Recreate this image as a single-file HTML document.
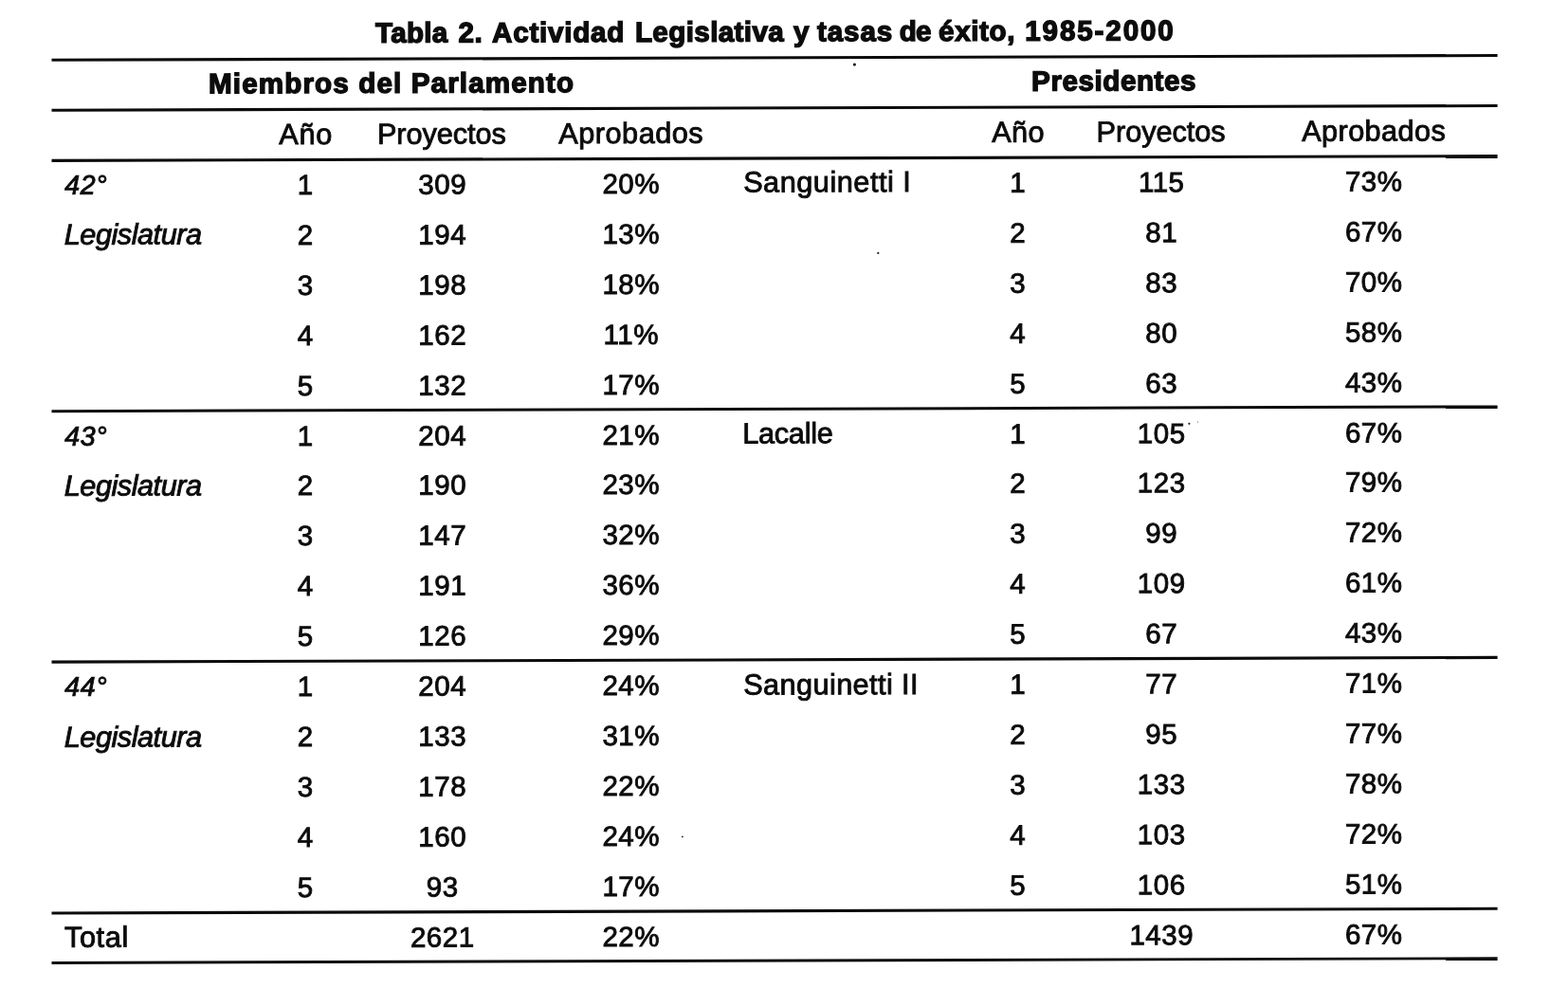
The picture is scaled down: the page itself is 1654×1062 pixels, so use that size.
<!DOCTYPE html>
<html lang="es">
<head>
<meta charset="utf-8">
<title>Tabla 2. Actividad Legislativa y tasas de éxito, 1985-2000</title>
<style>
html,body{margin:0;padding:0;background:#fff;}
#page{position:relative;width:1654px;height:1062px;overflow:hidden;background:#fff;}
#sk{position:absolute;left:0;top:0;width:1654px;height:1062px;transform-origin:0 0;transform:skewY(-0.1776deg);}
.t{position:absolute;display:block;white-space:pre;color:#0c0c0c;font-family:"Liberation Sans",sans-serif;line-height:40px;height:40px;margin:0;padding:0;}
.b{font-weight:bold;font-size:29.60px;-webkit-text-stroke:1.40px #0c0c0c;}
.r{font-size:30.70px;-webkit-text-stroke:0.90px #0c0c0c;}
.i{font-style:italic;font-size:30.70px;-webkit-text-stroke:0.90px #0c0c0c;}
.n{font-size:29.50px;letter-spacing:0.53px;-webkit-text-stroke:0.90px #0c0c0c;}
</style>
</head>
<body>
<div id="page">
<div id="sk">
<svg id="rules" width="1654" height="1062" viewBox="0 0 1654 1062" style="position:absolute;left:0;top:0;overflow:visible">
<rect x="54.5" y="61.85" width="1525.1" height="3.10" fill="#0c0c0c"/>
<rect x="54.5" y="114.85" width="1525.1" height="3.10" fill="#0c0c0c"/>
<rect x="54.5" y="167.95" width="1525.1" height="3.10" fill="#0c0c0c"/>
<rect x="54.5" y="432.30" width="1525.1" height="3.00" fill="#0c0c0c"/>
<rect x="54.5" y="696.75" width="1525.1" height="3.10" fill="#0c0c0c"/>
<rect x="54.5" y="961.65" width="1525.1" height="3.10" fill="#0c0c0c"/>
<rect x="54.5" y="1014.15" width="1525.1" height="2.90" fill="#0c0c0c"/>
<circle cx="901.4" cy="70.9" r="1.60" fill="#222"/>
<circle cx="926.3" cy="269.8" r="1.10" fill="#222"/>
<circle cx="719.9" cy="884.7" r="0.90" fill="#222"/>
<circle cx="1254.4" cy="450.7" r="1.10" fill="#222"/>
<circle cx="1263.5" cy="448.9" r="0.50" fill="#222"/>
</svg>
<h1 style="margin:0;padding:0;font-size:inherit;font-weight:inherit">
<span class="t b" style="left:396.10px;top:16.24px;letter-spacing:0.266px;">Tabla</span> 
<span class="t b" style="left:483.60px;top:16.24px;letter-spacing:0.541px;">2.</span> 
<span class="t b" style="left:519.10px;top:16.24px;letter-spacing:0.760px;">Actividad</span> 
<span class="t b" style="left:669.90px;top:16.24px;letter-spacing:0.389px;">Legislativa</span> 
<span class="t b" style="left:836.90px;top:16.24px;">y</span> 
<span class="t b" style="left:861.90px;top:16.24px;letter-spacing:0.917px;">tasas</span> 
<span class="t b" style="left:948.80px;top:16.24px;letter-spacing:-0.777px;">de</span> 
<span class="t b" style="left:990.10px;top:16.24px;letter-spacing:0.606px;">éxito,</span> 
<span class="t b" style="left:1081.30px;top:16.24px;letter-spacing:1.867px;">1985-2000</span> 
</h1>
<div class="t b" style="left:220.10px;top:69.34px;letter-spacing:1.128px;">Miembros del Parlamento</div>
<div class="t b" style="left:1088.10px;top:69.34px;letter-spacing:0.558px;">Presidentes</div>
<div class="t r" style="left:294.35px;top:122.56px;letter-spacing:0.632px;">Año</div>
<div class="t r" style="left:397.95px;top:122.56px;letter-spacing:-0.063px;">Proyectos</div>
<div class="t r" style="left:589.35px;top:122.56px;letter-spacing:0.489px;">Aprobados</div>
<div class="t r" style="left:1046.25px;top:122.56px;letter-spacing:0.382px;">Año</div>
<div class="t r" style="left:1156.55px;top:122.56px;letter-spacing:-0.050px;">Proyectos</div>
<div class="t r" style="left:1373.15px;top:122.56px;letter-spacing:0.414px;">Aprobados</div>
<div class="t i" style="left:68.25px;top:174.92px;letter-spacing:0.700px;font-size:28.50px;">42°</div>
<div class="t r" style="left:784.15px;top:175.46px;letter-spacing:0.510px;">Sanguinetti I</div>
<div class="t n" style="left:313.70px;top:175.88px;">1</div>
<div class="t n" style="left:441.36px;top:175.88px;">309</div>
<div class="t n" style="left:635.45px;top:175.88px;">20%</div>
<div class="t n" style="left:1065.20px;top:175.88px;">1</div>
<div class="t n" style="left:1200.95px;top:175.88px;">115</div>
<div class="t n" style="left:1418.95px;top:175.88px;">73%</div>
<div class="t i" style="left:67.75px;top:228.39px;letter-spacing:-0.486px;">Legislatura</div>
<div class="t n" style="left:313.70px;top:228.81px;">2</div>
<div class="t n" style="left:441.36px;top:228.81px;">194</div>
<div class="t n" style="left:635.45px;top:228.81px;">13%</div>
<div class="t n" style="left:1065.20px;top:228.81px;">2</div>
<div class="t n" style="left:1208.33px;top:228.81px;">81</div>
<div class="t n" style="left:1418.95px;top:228.81px;">67%</div>
<div class="t n" style="left:313.70px;top:281.74px;">3</div>
<div class="t n" style="left:441.36px;top:281.74px;">198</div>
<div class="t n" style="left:635.45px;top:281.74px;">18%</div>
<div class="t n" style="left:1065.20px;top:281.74px;">3</div>
<div class="t n" style="left:1208.33px;top:281.74px;">83</div>
<div class="t n" style="left:1418.95px;top:281.74px;">70%</div>
<div class="t n" style="left:313.70px;top:334.67px;">4</div>
<div class="t n" style="left:441.36px;top:334.67px;">162</div>
<div class="t n" style="left:636.54px;top:334.67px;">11%</div>
<div class="t n" style="left:1065.20px;top:334.67px;">4</div>
<div class="t n" style="left:1208.33px;top:334.67px;">80</div>
<div class="t n" style="left:1418.95px;top:334.67px;">58%</div>
<div class="t n" style="left:313.70px;top:387.60px;">5</div>
<div class="t n" style="left:441.36px;top:387.60px;">132</div>
<div class="t n" style="left:635.45px;top:387.60px;">17%</div>
<div class="t n" style="left:1065.20px;top:387.60px;">5</div>
<div class="t n" style="left:1208.33px;top:387.60px;">63</div>
<div class="t n" style="left:1418.95px;top:387.60px;">43%</div>
<div class="t i" style="left:68.25px;top:439.57px;letter-spacing:0.700px;font-size:28.50px;">43°</div>
<div class="t r" style="left:783.15px;top:440.11px;letter-spacing:-0.263px;">Lacalle</div>
<div class="t n" style="left:313.70px;top:440.53px;">1</div>
<div class="t n" style="left:441.36px;top:440.53px;">204</div>
<div class="t n" style="left:635.45px;top:440.53px;">21%</div>
<div class="t n" style="left:1065.20px;top:440.53px;">1</div>
<div class="t n" style="left:1199.86px;top:440.53px;">105</div>
<div class="t n" style="left:1418.95px;top:440.53px;">67%</div>
<div class="t i" style="left:67.75px;top:493.04px;letter-spacing:-0.486px;">Legislatura</div>
<div class="t n" style="left:313.70px;top:493.46px;">2</div>
<div class="t n" style="left:441.36px;top:493.46px;">190</div>
<div class="t n" style="left:635.45px;top:493.46px;">23%</div>
<div class="t n" style="left:1065.20px;top:493.46px;">2</div>
<div class="t n" style="left:1199.86px;top:493.46px;">123</div>
<div class="t n" style="left:1418.95px;top:493.46px;">79%</div>
<div class="t n" style="left:313.70px;top:546.39px;">3</div>
<div class="t n" style="left:441.36px;top:546.39px;">147</div>
<div class="t n" style="left:635.45px;top:546.39px;">32%</div>
<div class="t n" style="left:1065.20px;top:546.39px;">3</div>
<div class="t n" style="left:1208.33px;top:546.39px;">99</div>
<div class="t n" style="left:1418.95px;top:546.39px;">72%</div>
<div class="t n" style="left:313.70px;top:599.32px;">4</div>
<div class="t n" style="left:441.36px;top:599.32px;">191</div>
<div class="t n" style="left:635.45px;top:599.32px;">36%</div>
<div class="t n" style="left:1065.20px;top:599.32px;">4</div>
<div class="t n" style="left:1199.86px;top:599.32px;">109</div>
<div class="t n" style="left:1418.95px;top:599.32px;">61%</div>
<div class="t n" style="left:313.70px;top:652.25px;">5</div>
<div class="t n" style="left:441.36px;top:652.25px;">126</div>
<div class="t n" style="left:635.45px;top:652.25px;">29%</div>
<div class="t n" style="left:1065.20px;top:652.25px;">5</div>
<div class="t n" style="left:1208.33px;top:652.25px;">67</div>
<div class="t n" style="left:1418.95px;top:652.25px;">43%</div>
<div class="t i" style="left:68.25px;top:704.22px;letter-spacing:0.700px;font-size:28.50px;">44°</div>
<div class="t r" style="left:784.15px;top:704.76px;letter-spacing:0.407px;">Sanguinetti II</div>
<div class="t n" style="left:313.70px;top:705.18px;">1</div>
<div class="t n" style="left:441.36px;top:705.18px;">204</div>
<div class="t n" style="left:635.45px;top:705.18px;">24%</div>
<div class="t n" style="left:1065.20px;top:705.18px;">1</div>
<div class="t n" style="left:1208.33px;top:705.18px;">77</div>
<div class="t n" style="left:1418.95px;top:705.18px;">71%</div>
<div class="t i" style="left:67.75px;top:757.69px;letter-spacing:-0.486px;">Legislatura</div>
<div class="t n" style="left:313.70px;top:758.11px;">2</div>
<div class="t n" style="left:441.36px;top:758.11px;">133</div>
<div class="t n" style="left:635.45px;top:758.11px;">31%</div>
<div class="t n" style="left:1065.20px;top:758.11px;">2</div>
<div class="t n" style="left:1208.33px;top:758.11px;">95</div>
<div class="t n" style="left:1418.95px;top:758.11px;">77%</div>
<div class="t n" style="left:313.70px;top:811.04px;">3</div>
<div class="t n" style="left:441.36px;top:811.04px;">178</div>
<div class="t n" style="left:635.45px;top:811.04px;">22%</div>
<div class="t n" style="left:1065.20px;top:811.04px;">3</div>
<div class="t n" style="left:1199.86px;top:811.04px;">133</div>
<div class="t n" style="left:1418.95px;top:811.04px;">78%</div>
<div class="t n" style="left:313.70px;top:863.97px;">4</div>
<div class="t n" style="left:441.36px;top:863.97px;">160</div>
<div class="t n" style="left:635.45px;top:863.97px;">24%</div>
<div class="t n" style="left:1065.20px;top:863.97px;">4</div>
<div class="t n" style="left:1199.86px;top:863.97px;">103</div>
<div class="t n" style="left:1418.95px;top:863.97px;">72%</div>
<div class="t n" style="left:313.70px;top:916.90px;">5</div>
<div class="t n" style="left:449.83px;top:916.90px;">93</div>
<div class="t n" style="left:635.45px;top:916.90px;">17%</div>
<div class="t n" style="left:1065.20px;top:916.90px;">5</div>
<div class="t n" style="left:1199.86px;top:916.90px;">106</div>
<div class="t n" style="left:1418.95px;top:916.90px;">51%</div>
<div class="t r" style="left:67.95px;top:968.61px;letter-spacing:0.624px;">Total</div>
<div class="t n" style="left:432.89px;top:969.83px;">2621</div>
<div class="t n" style="left:635.45px;top:969.83px;">22%</div>
<div class="t n" style="left:1191.39px;top:969.83px;">1439</div>
<div class="t n" style="left:1418.95px;top:969.83px;">67%</div>
</div>
</div>
</body>
</html>
